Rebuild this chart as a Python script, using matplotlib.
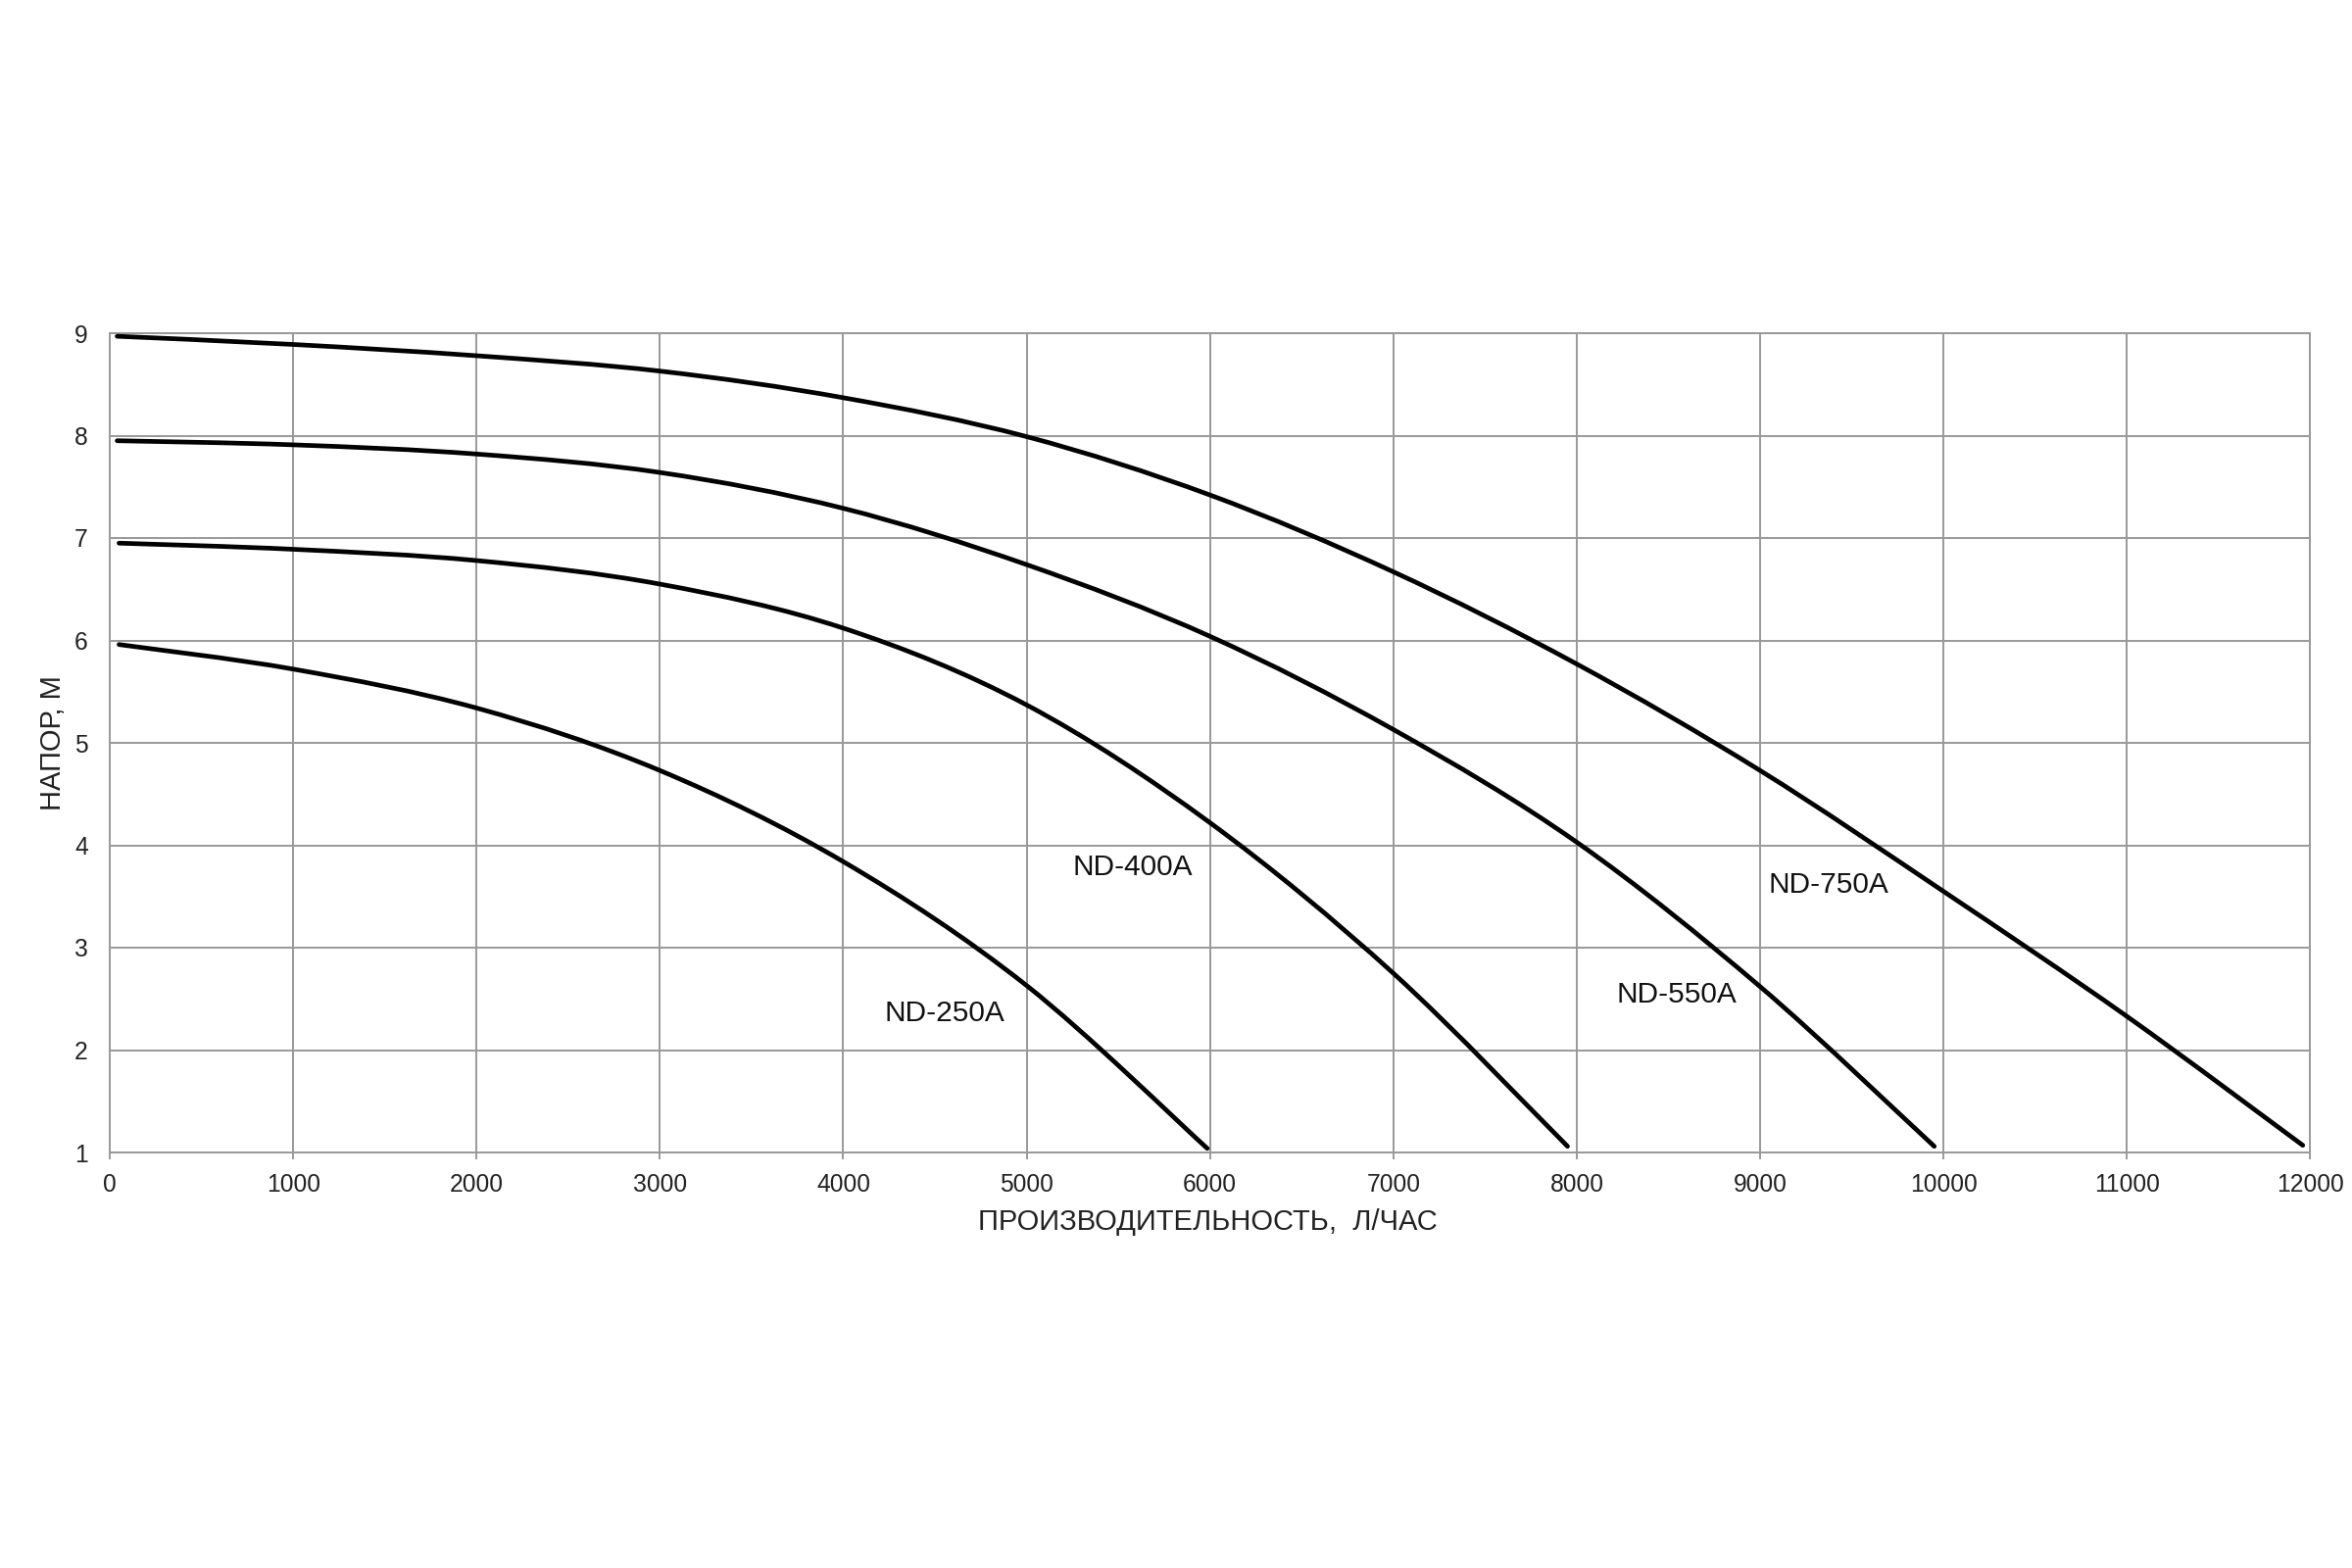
import matplotlib
matplotlib.use("Agg")
import matplotlib.pyplot as plt
from matplotlib.path import Path
from matplotlib.patches import PathPatch

plt.rcParams['font.family'] = ['Liberation Sans', 'DejaVu Sans']

# Flow (л/час) and head (м)
q_250 = [50, 1000, 2000, 3000, 4000, 5000, 5985]
h_250 = [5.96, 5.72, 5.34, 4.73, 3.84, 2.63, 1.04]

q_400 = [50, 1000, 2000, 3000, 4000, 5000, 6000, 7000, 7950]
h_400 = [6.95, 6.89, 6.78, 6.55, 6.12, 5.37, 4.22, 2.75, 1.06]

q_550 = [40, 1000, 2000, 3000, 4000, 5000, 6000, 7000, 8000, 9000, 9950]
h_550 = [7.95, 7.91, 7.82, 7.64, 7.29, 6.74, 6.04, 5.13, 4.03, 2.62, 1.06]

q_750 = [40, 1000, 2000, 3000, 4000, 5000, 6000, 7000, 8000, 9000, 10000, 11000, 11960]
h_750 = [8.97, 8.89, 8.78, 8.63, 8.37, 7.99, 7.42, 6.67, 5.77, 4.73, 3.55, 2.33, 1.07]

labels = ['ND-250A', 'ND-400A', 'ND-550A', 'ND-750A']
label_x = [4550, 5580, 8545, 9376]
label_y = [2.36, 3.78, 2.54, 3.61]

x_ticks = list(range(0, 12001, 1000))
y_ticks = list(range(1, 10))


def smooth_path(q, h):
    """Excel-style smoothed line: cubic Bezier segments through the data points."""
    pts = list(zip(q, h))
    n = len(pts)
    verts = [pts[0]]
    codes = [Path.MOVETO]
    for i in range(n - 1):
        p0 = pts[i - 1] if i > 0 else pts[i]
        p1 = pts[i]
        p2 = pts[i + 1]
        p3 = pts[i + 2] if i + 2 < n else pts[i + 1]
        c1 = (p1[0] + (p2[0] - p0[0]) / 6.0, p1[1] + (p2[1] - p0[1]) / 6.0)
        c2 = (p2[0] - (p3[0] - p1[0]) / 6.0, p2[1] - (p3[1] - p1[1]) / 6.0)
        verts += [c1, c2, p2]
        codes += [Path.CURVE4, Path.CURVE4, Path.CURVE4]
    return Path(verts, codes)


fig = plt.figure(figsize=(24, 16), dpi=100)
ax = fig.add_axes([0.0467, 0.265, 0.9355, 0.5225])

grid_color = '#999999'
for q, h in [(q_250, h_250), (q_400, h_400), (q_550, h_550), (q_750, h_750)]:
    patch = PathPatch(smooth_path(q, h), facecolor='none', edgecolor='black',
                      linewidth=3.4, capstyle='round', joinstyle='round', zorder=3)
    ax.add_patch(patch)

for name, lx, ly in zip(labels, label_x, label_y):
    ax.text(lx, ly, name, fontsize=21.5, ha='center', va='center', color='#111111', zorder=4)

ax.set_xlim(0, 12000)
ax.set_ylim(1, 9)
ax.set_xticks(x_ticks)
ax.set_yticks(y_ticks)
ax.set_xticklabels([str(t) for t in x_ticks], fontsize=17.7, color='#222222')
ax.set_yticklabels([str(t) for t in y_ticks], fontsize=17.7, color='#222222')
ax.grid(True, color=grid_color, linewidth=1.4, zorder=1)
ax.set_axisbelow(True)
for s in ax.spines.values():
    s.set_color(grid_color)
    s.set_linewidth(1.4)
ax.tick_params(axis='x', length=5, width=1.4, color=grid_color, pad=10)
ax.tick_params(axis='y', length=0, pad=16)

fig.text(0.5133, 0.2206, 'ПРОИЗВОДИТЕЛЬНОСТЬ,  Л/ЧАС', fontsize=21, ha='center', va='center', color='#222222')
fig.text(0.0225, 0.526, 'НАПОР, М', fontsize=21, ha='center', va='center', rotation=90, color='#222222')

fig.savefig('out.png', dpi=100, facecolor='white')
